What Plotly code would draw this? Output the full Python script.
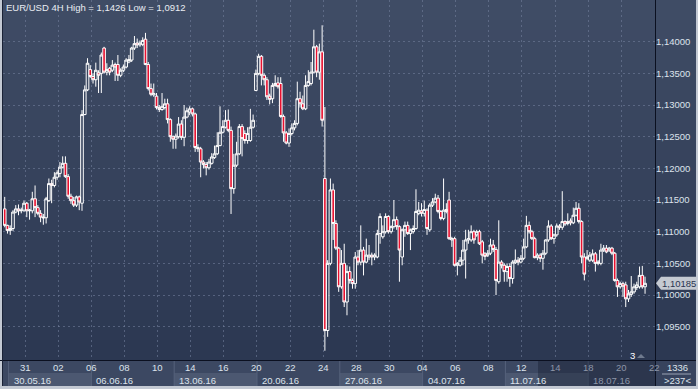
import numpy as np
import plotly.graph_objects as go

# ---------------- data (EUR/USD, 4H bars) ----------------
opens = [1.1136,1.1110,1.1102,1.1105,1.1131,1.1136,1.1133,1.1134,1.1145,1.1133,
         1.1133,1.1152,1.1138,1.1129,1.1123,1.1122,1.1149,1.1176,1.1173,1.1186,
         1.1192,1.1202,1.1208,1.1187,1.1156,1.1149,1.1142,1.1155,1.1145,1.1285,
         1.1324,1.1356,1.1345,1.1340,1.1351,1.1350,1.1390,1.1352,1.1358,1.1355,
         1.1364,1.1364,1.1347,1.1355,1.1360,1.1368,1.1371,1.1390,1.1398,1.1395,
         1.1396,1.1404,1.1364,1.1326,1.1316,1.1314,1.1296,1.1293,1.1296,1.1302,
         1.1277,1.1250,1.1246,1.1250,1.1270,1.1249,1.1281,1.1289,1.1294,1.1286,
         1.1233,1.1231,1.1210,1.1206,1.1201,1.1208,1.1217,1.1223,1.1236,1.1257,
         1.1265,1.1276,1.1260,1.1168,1.1205,1.1223,1.1266,1.1255,1.1244,1.1244,
         1.1265,1.1323,1.1350,1.1377,1.1347,1.1340,1.1314,1.1310,1.1331,1.1335,
         1.1334,1.1282,1.1256,1.1240,1.1255,1.1264,1.1271,1.1310,1.1302,1.1294,
         1.1331,1.1334,1.1352,1.1392,1.1352,1.1384,1.1184,1.0944,1.1050,1.1166,
         1.1113,1.1074,1.1013,1.1050,1.0989,1.1037,1.1023,1.1018,1.1060,1.1052,
         1.1071,1.1052,1.1060,1.1063,1.1060,1.1060,1.1097,1.1092,1.1100,1.1124,
         1.1100,1.1108,1.1119,1.1108,1.1060,1.1103,1.1110,1.1097,1.1100,1.1105,
         1.1129,1.1133,1.1129,1.1134,1.1103,1.1142,1.1147,1.1153,1.1132,1.1121,
         1.1132,1.1150,1.1087,1.1089,1.1047,1.1047,1.1055,1.1071,1.1087,1.1087,
         1.1100,1.1095,1.1100,1.1084,1.1065,1.1063,1.1066,1.1079,1.1072,1.1021,
         1.1052,1.1047,1.1037,1.1045,1.1026,1.1051,1.1055,1.1052,1.1058,1.1076,
         1.1110,1.1100,1.1089,1.1059,1.1063,1.1058,1.1066,1.1087,1.1109,1.1089,
         1.1095,1.1109,1.1107,1.1116,1.1113,1.1117,1.1114,1.1126,1.1137,1.1116,
         1.1060,1.1058,1.1055,1.1055,1.1065,1.1050,1.1050,1.1071,1.1074,1.1071,
         1.1074,1.1066,1.1023,1.1013,1.1018,1.1016,1.0994,1.1001,1.1005,1.1012,
         1.1013,1.1031,1.1013]
highs = [1.1155,1.1111,1.1110,1.1134,1.1142,1.1143,1.1138,1.1149,1.1147,1.1136,
         1.1163,1.1173,1.1142,1.1134,1.1128,1.1155,1.1184,1.1182,1.1194,1.1197,
         1.1210,1.1219,1.1219,1.1191,1.1160,1.1155,1.1157,1.1157,1.1292,1.1331,
         1.1374,1.1363,1.1350,1.1367,1.1355,1.1383,1.1392,1.1366,1.1360,1.1371,
         1.1367,1.1379,1.1358,1.1364,1.1374,1.1379,1.1392,1.1409,1.1405,1.1402,
         1.1407,1.1414,1.1368,1.1334,1.1334,1.1319,1.1300,1.1319,1.1310,1.1310,
         1.1279,1.1252,1.1255,1.1281,1.1276,1.1300,1.1296,1.1298,1.1296,1.1288,
         1.1238,1.1234,1.1213,1.1210,1.1215,1.1224,1.1236,1.1257,1.1298,1.1276,
         1.1292,1.1293,1.1266,1.1223,1.1242,1.1270,1.1270,1.1260,1.1265,1.1294,
         1.1285,1.1356,1.1381,1.1379,1.1350,1.1344,1.1318,1.1335,1.1347,1.1344,
         1.1344,1.1285,1.1259,1.1263,1.1271,1.1276,1.1337,1.1321,1.1315,1.1347,
         1.1355,1.1368,1.1419,1.1395,1.1397,1.1426,1.1297,1.1055,1.1184,1.1176,
         1.1118,1.1076,1.1071,1.1081,1.1047,1.1045,1.1026,1.1068,1.1071,1.1110,
         1.1076,1.1089,1.1079,1.1067,1.1066,1.1103,1.1129,1.1110,1.1129,1.1126,
         1.1110,1.1150,1.1124,1.1110,1.1105,1.1116,1.1116,1.1105,1.1110,1.1167,
         1.1147,1.1145,1.1149,1.1137,1.1145,1.1153,1.1160,1.1158,1.1134,1.1184,
         1.1145,1.1163,1.1092,1.1092,1.1052,1.1060,1.1087,1.1103,1.1103,1.1110,
         1.1103,1.1103,1.1103,1.1087,1.1068,1.1071,1.1089,1.1087,1.1076,1.1118,
         1.1055,1.1050,1.1050,1.1050,1.1055,1.1072,1.1060,1.1063,1.1089,1.1125,
         1.1116,1.1103,1.1092,1.1066,1.1066,1.1071,1.1088,1.1118,1.1112,1.1097,
         1.1113,1.1112,1.1164,1.1118,1.1129,1.1121,1.1138,1.1147,1.1145,1.1118,
         1.1066,1.1071,1.1068,1.1072,1.1068,1.1055,1.1081,1.1079,1.1079,1.1076,
         1.1076,1.1068,1.1026,1.1021,1.1021,1.1021,1.1008,1.1030,1.1018,1.1021,
         1.1045,1.1046,1.1029]
lows = [1.1107,1.1097,1.1095,1.1101,1.1129,1.1126,1.1129,1.1131,1.1123,1.1119,
        1.1129,1.1123,1.1126,1.1115,1.1111,1.1113,1.1147,1.1145,1.1170,1.1182,
        1.1186,1.1200,1.1185,1.1152,1.1144,1.1139,1.1139,1.1134,1.1133,1.1284,
        1.1322,1.1343,1.1334,1.1329,1.1319,1.1319,1.1350,1.1347,1.1347,1.1352,
        1.1338,1.1338,1.1344,1.1352,1.1358,1.1366,1.1368,1.1387,1.1390,1.1392,
        1.1393,1.1363,1.1323,1.1314,1.1313,1.1293,1.1289,1.1291,1.1293,1.1271,
        1.1242,1.1231,1.1231,1.1247,1.1245,1.1235,1.1279,1.1284,1.1282,1.1226,
        1.1226,1.1186,1.1200,1.1189,1.1198,1.1206,1.1215,1.1221,1.1235,1.1255,
        1.1263,1.1257,1.1128,1.1160,1.1202,1.1221,1.1219,1.1239,1.1239,1.1242,
        1.1263,1.1322,1.1347,1.1331,1.1331,1.1308,1.1301,1.1303,1.1329,1.1326,
        1.1280,1.1242,1.1238,1.1234,1.1252,1.1260,1.1268,1.1296,1.1292,1.1292,
        1.1329,1.1331,1.1350,1.1344,1.1340,1.1266,1.0912,1.0934,1.1047,1.1087,
        1.1071,1.1005,1.1010,1.0981,1.0968,1.1018,1.1010,1.1010,1.1047,1.1047,
        1.1031,1.1050,1.1055,1.1047,1.1055,1.1058,1.1081,1.1089,1.1097,1.1097,
        1.1097,1.1105,1.1103,1.1021,1.1047,1.1092,1.1095,1.1071,1.1097,1.1103,
        1.1126,1.1124,1.1124,1.1095,1.1100,1.1139,1.1145,1.1129,1.1118,1.1118,
        1.1129,1.1087,1.1076,1.1045,1.1031,1.1045,1.1047,1.1026,1.1081,1.1084,
        1.1081,1.1092,1.1079,1.1050,1.1055,1.1060,1.1063,1.1068,1.1000,1.1018,
        1.1042,1.1021,1.1021,1.1013,1.1018,1.1049,1.1047,1.1050,1.1055,1.1074,
        1.1097,1.1087,1.1058,1.1055,1.1052,1.1040,1.1063,1.1084,1.1087,1.1081,
        1.1092,1.1103,1.1103,1.1109,1.1110,1.1110,1.1112,1.1124,1.1113,1.1050,
        1.1023,1.1055,1.1052,1.1052,1.1037,1.1047,1.1047,1.1068,1.1066,1.1068,
        1.1063,1.1021,1.0997,1.1010,1.0997,1.0981,1.0989,1.0997,1.1002,1.1008,
        1.1010,1.1010,1.1002]
closes = [1.1110,1.1102,1.1105,1.1131,1.1136,1.1133,1.1134,1.1145,1.1133,1.1134,
          1.1152,1.1138,1.1129,1.1123,1.1122,1.1152,1.1176,1.1173,1.1186,1.1193,
          1.1202,1.1208,1.1187,1.1156,1.1149,1.1142,1.1155,1.1147,1.1285,1.1324,
          1.1366,1.1345,1.1340,1.1355,1.1347,1.1379,1.1352,1.1356,1.1352,1.1363,
          1.1360,1.1347,1.1355,1.1360,1.1371,1.1372,1.1390,1.1397,1.1395,1.1398,
          1.1402,1.1364,1.1326,1.1317,1.1318,1.1296,1.1293,1.1298,1.1302,1.1277,
          1.1250,1.1246,1.1251,1.1270,1.1249,1.1281,1.1291,1.1294,1.1286,1.1233,
          1.1231,1.1210,1.1206,1.1201,1.1210,1.1218,1.1223,1.1236,1.1257,1.1266,
          1.1276,1.1260,1.1168,1.1205,1.1223,1.1266,1.1247,1.1244,1.1255,1.1265,
          1.1276,1.1350,1.1377,1.1347,1.1340,1.1313,1.1309,1.1331,1.1334,1.1329,
          1.1282,1.1256,1.1240,1.1255,1.1264,1.1271,1.1310,1.1302,1.1294,1.1331,
          1.1337,1.1352,1.1392,1.1352,1.1384,1.1276,1.0944,1.1050,1.1166,1.1113,
          1.1074,1.1013,1.1050,1.0989,1.1037,1.1023,1.1018,1.1060,1.1052,1.1071,
          1.1052,1.1063,1.1063,1.1060,1.1063,1.1097,1.1124,1.1100,1.1124,1.1100,
          1.1108,1.1119,1.1108,1.1071,1.1103,1.1110,1.1097,1.1103,1.1105,1.1132,
          1.1134,1.1129,1.1135,1.1105,1.1142,1.1147,1.1153,1.1132,1.1121,1.1134,
          1.1135,1.1089,1.1089,1.1047,1.1050,1.1055,1.1071,1.1087,1.1089,1.1100,
          1.1087,1.1100,1.1081,1.1063,1.1061,1.1066,1.1079,1.1072,1.1023,1.1052,
          1.1047,1.1037,1.1045,1.1026,1.1052,1.1055,1.1052,1.1058,1.1076,1.1110,
          1.1100,1.1089,1.1059,1.1063,1.1058,1.1066,1.1087,1.1109,1.1089,1.1095,
          1.1109,1.1107,1.1116,1.1112,1.1116,1.1114,1.1126,1.1137,1.1116,1.1060,
          1.1033,1.1060,1.1063,1.1065,1.1050,1.1052,1.1071,1.1074,1.1068,1.1074,
          1.1066,1.1023,1.1013,1.1018,1.1014,1.0994,1.1002,1.1005,1.1013,1.1016,
          1.1031,1.1013,1.10185]

# calendar of trading days shown on the axis (every second day labelled)
day_tick_labels = ['31', '02', '06', '08', '10', '14', '16', '20', '22', '24',
                   '28', '30', '04', '06', '08', '12', '14', '18', '20', '22']
week_labels = ['30.05.16', '06.06.16', '13.06.16', '20.06.16',
               '27.06.16', '04.07.16', '11.07.16', '18.07.16']
price_ticks = [1.095, 1.100, 1.105, 1.110, 1.115, 1.120, 1.125, 1.130, 1.135, 1.140]
price_tick_labels = ['1,09500', '1,10000', '1,10500', '1,11000', '1,11500',
                     '1,12000', '1,12500', '1,13000', '1,13500', '1,14000']
last_price = 1.10185
last_price_label = '1,10185'
title_text = 'EUR/USD 4H High = 1,1426 Low = 1,0912'
bars_count_label = '1336'
zoom_label = '>237<'

# ---------------- geometry / style ----------------
W, H = 698, 389
ML, MR, MT, MB = 3, 43, 0, 29
PW, PH = W - ML - MR, H - MT - MB
BARS_PER_DAY = 6
DAY_OFFSET = 1.4
XR = [-0.62, 235.6]
YR = [1.08974, 1.14659]
FONT = 'Liberation Sans, Arial, sans-serif'
FS = 9.5

def xp(px):
    return (px - ML) / PW

def yp(py):
    return (MT + PH - py) / PH

def ix(i):
    return (i - XR[0]) / (XR[1] - XR[0])

def pyv(v):
    return MT + PH * (YR[1] - v) / (YR[1] - YR[0])

x = np.arange(len(opens))
label_days = [2 * j + 1 for j in range(len(day_tick_labels))]
grid_x = [BARS_PER_DAY * k + DAY_OFFSET for k in label_days]

fig = go.Figure()
fig.add_trace(go.Candlestick(
    x=x, open=opens, high=highs, low=lows, close=closes,
    increasing=dict(line=dict(color='#ffffff', width=1), fillcolor='rgba(0,0,0,0)'),
    decreasing=dict(line=dict(color='#ffffff', width=1), fillcolor='#e8102f'),
    whiskerwidth=0, hoverinfo='skip', showlegend=False))

shapes = []
# background gradient
top_c = np.array([64, 77, 102])
bot_c = np.array([44, 56, 82])
n_strips = 36
for s in range(n_strips):
    t = (s + 0.5) / n_strips
    c = top_c * (1 - t) + bot_c * t
    shapes.append(dict(type='rect', xref='paper', yref='paper', layer='below',
                       x0=xp(3), x1=xp(696), y0=yp(s * 10), y1=yp(s * 10 + 10),
                       fillcolor='rgb(%d,%d,%d)' % tuple(c.astype(int)), line=dict(width=0)))
# x-axis panel
shapes.append(dict(type='rect', xref='paper', yref='paper', layer='below',
                   x0=xp(3), x1=xp(696), y0=yp(386), y1=yp(360),
                   fillcolor='#3c4862', line=dict(width=0)))
for w in range(len(week_labels)):
    k0 = 5 * w
    x0 = ix(BARS_PER_DAY * k0 + DAY_OFFSET)
    x1 = min(ix(BARS_PER_DAY * (k0 + 5) + DAY_OFFSET), xp(655))
    if w % 2 == 0:
        shapes.append(dict(type='rect', xref='paper', yref='paper', layer='below',
                           x0=x0, x1=x1, y0=yp(386), y1=yp(373),
                           fillcolor='#4c5871', line=dict(width=0)))
    shapes.append(dict(type='line', xref='paper', yref='paper', layer='below',
                       x0=x0, x1=x0, y0=yp(386), y1=yp(361),
                       line=dict(color='#56627b', width=1)))
# dimmed region at right of the x-axis panel
shapes.append(dict(type='rect', xref='paper', yref='paper', layer='above',
                   x0=xp(538), x1=xp(655), y0=yp(386), y1=yp(361),
                   fillcolor='rgba(15,22,40,0.35)', line=dict(width=0)))
# right bottom cell
shapes.append(dict(type='rect', xref='paper', yref='paper', layer='above',
                   x0=xp(656), x1=xp(696), y0=yp(386), y1=yp(361),
                   fillcolor='#37435d', line=dict(width=0)))
shapes.append(dict(type='line', xref='paper', yref='paper', layer='above',
                   x0=xp(662), x1=xp(691), y0=yp(374), y1=yp(374),
                   line=dict(color='#9aa3b4', width=1)))
# separators
shapes.append(dict(type='line', xref='paper', yref='paper', layer='above',
                   x0=xp(0), x1=xp(696), y0=yp(360.5), y1=yp(360.5),
                   line=dict(color='#0b1020', width=1)))
shapes.append(dict(type='line', xref='paper', yref='paper', layer='above',
                   x0=xp(655.5), x1=xp(655.5), y0=yp(0), y1=yp(386),
                   line=dict(color='#0b1020', width=1)))
shapes.append(dict(type='line', xref='paper', yref='paper', layer='above',
                   x0=xp(2.5), x1=xp(2.5), y0=yp(0), y1=yp(386),
                   line=dict(color='#1a2236', width=1)))
# last price tag
ly = pyv(last_price)
tag_path = 'M %f %f L %f %f L %f %f L %f %f L %f %f Z' % (
    xp(656), yp(ly), xp(661), yp(ly - 6.5), xp(697), yp(ly - 6.5),
    xp(697), yp(ly + 6.5), xp(661), yp(ly + 6.5))
shapes.append(dict(type='path', xref='paper', yref='paper', layer='above',
                   path=tag_path, fillcolor='#c5cad2', line=dict(width=0)))
# small marker triangle next to "3"
tri = 'M %f %f L %f %f L %f %f Z' % (xp(637), yp(358), xp(645), yp(358), xp(641), yp(354))
shapes.append(dict(type='path', xref='paper', yref='paper', layer='above',
                   path=tri, fillcolor='#6f7a8e', line=dict(width=0)))

annotations = []
annotations.append(dict(text=title_text, xref='paper', yref='paper', x=xp(4), y=yp(7.5),
                        xanchor='left', yanchor='middle', showarrow=False,
                        font=dict(family=FONT, size=FS, color='#e9edf3')))
for j, lab in enumerate(day_tick_labels):
    gx = ix(grid_x[j])
    col = '#8c95a8' if gx > xp(538) else '#dde3ec'
    annotations.append(dict(text=lab, xref='paper', yref='paper', x=gx, y=yp(367.5),
                            xanchor='center', yanchor='middle', showarrow=False,
                            font=dict(family=FONT, size=FS, color=col)))
for w, lab in enumerate(week_labels):
    gx = ix(BARS_PER_DAY * 5 * w + DAY_OFFSET)
    col = '#8c95a8' if gx > xp(538) else '#dde3ec'
    annotations.append(dict(text=lab, xref='paper', yref='paper', x=gx, xshift=3,
                            y=yp(380), xanchor='left', yanchor='middle', showarrow=False,
                            font=dict(family=FONT, size=FS, color=col)))
annotations.append(dict(text=last_price_label, xref='paper', yref='paper', x=xp(679),
                        y=yp(ly), xanchor='center', yanchor='middle', showarrow=False,
                        font=dict(family=FONT, size=FS, color='#2b3550')))
annotations.append(dict(text='3', xref='paper', yref='paper', x=xp(632), y=yp(355),
                        xanchor='center', yanchor='middle', showarrow=False,
                        font=dict(family=FONT, size=FS, color='#ffffff')))
annotations.append(dict(text=bars_count_label, xref='paper', yref='paper', x=xp(677),
                        y=yp(367.5), xanchor='center', yanchor='middle', showarrow=False,
                        font=dict(family=FONT, size=FS, color='#dde3ec')))
annotations.append(dict(text=zoom_label, xref='paper', yref='paper', x=xp(677),
                        y=yp(380.5), xanchor='center', yanchor='middle', showarrow=False,
                        font=dict(family=FONT, size=FS, color='#dde3ec')))

grid_col = 'rgba(118,132,160,0.55)'
fig.update_layout(
    width=W, height=H,
    margin=dict(l=ML, r=MR, t=MT, b=MB, pad=0),
    paper_bgcolor='#c3c9d3', plot_bgcolor='rgba(0,0,0,0)',
    shapes=shapes, annotations=annotations, showlegend=False,
    boxgap=0.05, boxgroupgap=0.0, hovermode=False,
    xaxis=dict(range=XR, tickvals=grid_x, showticklabels=False, ticks='',
               showgrid=True, gridcolor=grid_col, griddash='2px,3px', gridwidth=1,
               zeroline=False, showline=False, rangeslider=dict(visible=False),
               fixedrange=True),
    yaxis=dict(range=YR, side='right', tickvals=price_ticks, ticktext=price_tick_labels,
               ticks='', showgrid=True, gridcolor=grid_col, griddash='2px,3px', gridwidth=1,
               zeroline=False, showline=False, fixedrange=True,
               tickfont=dict(family=FONT, size=FS, color='#dde3ec')),
)

fig.write_html('out.html', config={'displayModeBar': False, 'staticPlot': True},
               post_script="document.body.style.margin='0px';document.body.style.overflow='hidden';")
